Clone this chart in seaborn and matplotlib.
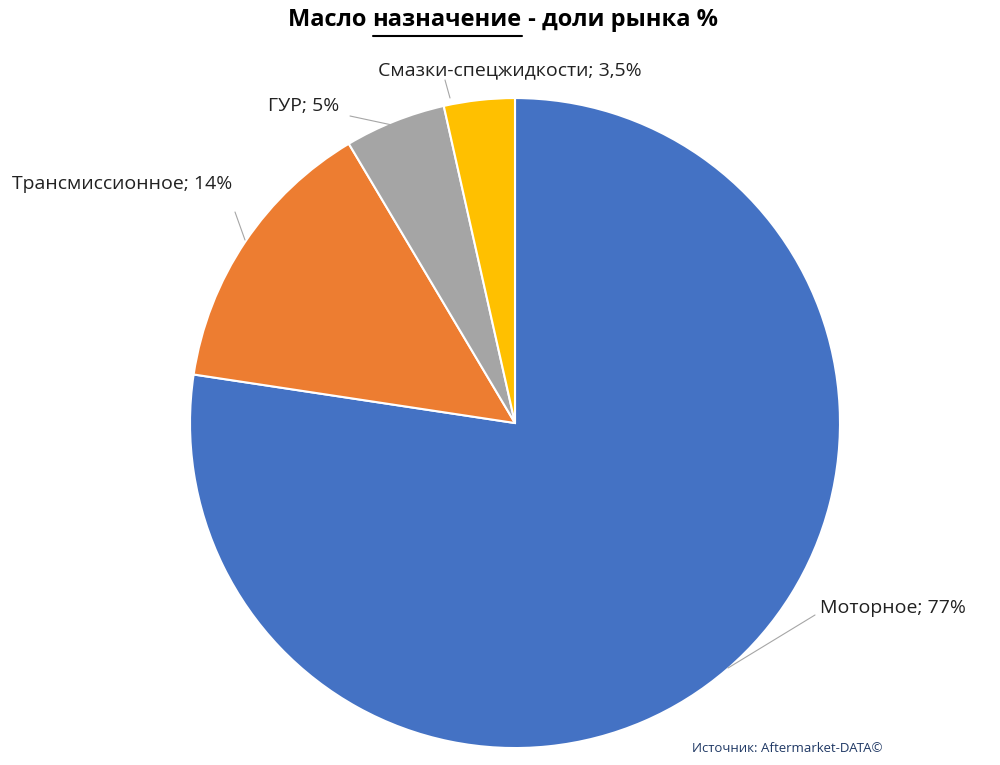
import matplotlib
matplotlib.use("Agg")
import matplotlib.pyplot as plt
import seaborn as sns

labels = ["Моторное", "Трансмиссионное", "ГУР", "Смазки-спецжидкости"]
shares = [77, 14, 5, 3.5]
share_text = ["77%", "14%", "5%", "3,5%"]
colors = ["#4472C4", "#ED7D31", "#A5A5A5", "#FFC000"]

sns.set_theme(style="white")
plt.rcParams["font.family"] = "Open Sans"

fig = plt.figure(figsize=(10, 7.65), dpi=100)
ax = fig.add_axes([0.19, 0.022, 0.65, 0.85])
ax.pie(shares, colors=colors, startangle=90, counterclock=False,
       wedgeprops=dict(edgecolor="white", linewidth=1.5))
ax.set_xlim(-1.0, 1.0)
ax.set_ylim(-1.0, 1.0)
ax.set_aspect("equal")

def fp(x, y):
    return (x / 1000, 1 - y / 765)

lab_pos = [(820, 608), (12, 184), (268, 106), (378, 70)]
line_pts = [((815, 615), (728, 668)), ((235, 212), (245, 240)),
            ((350, 116), (392, 125)), ((445, 80), (450, 98))]
for (x, y), lab, t, (p0, p1) in zip(lab_pos, labels, share_text, line_pts):
    fig.text(*fp(x, y), f"{lab}; {t}", ha="left", va="center", fontsize=14, color="#222222")
    fig.add_artist(plt.Line2D([fp(*p0)[0], fp(*p1)[0]], [fp(*p0)[1], fp(*p1)[1]],
                              color="#A6A6A6", lw=0.8))

# title with underlined word
renderer = fig.canvas.get_renderer()
ty = 1 - 20 / 765
x = 0.288
parts = ["Масло ", "назначение", " - доли рынка %"]
for i, p in enumerate(parts):
    t = fig.text(x, ty, p, fontsize=17, fontweight="bold", va="center", color="black")
    bb = t.get_window_extent(renderer).transformed(fig.transFigure.inverted())
    if i == 1:
        fig.add_artist(plt.Line2D([bb.x0, bb.x1], [1 - 36 / 765] * 2, color="black", lw=1.5))
    x = bb.x1

fig.text(0.692, 1 - 748 / 765, "Источник: Aftermarket-DATA©", fontsize=9.5,
         color="#1F3864", va="center")

fig.savefig("out.png", dpi=100)
